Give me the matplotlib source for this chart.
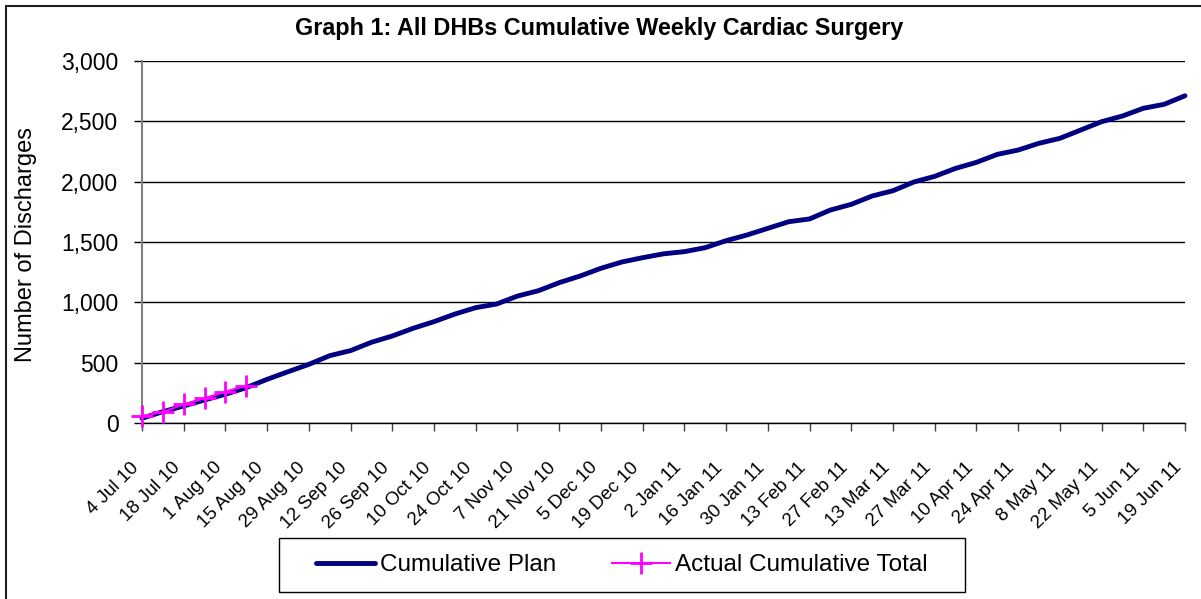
import numpy as np
import matplotlib
matplotlib.use('Agg')
import matplotlib.pyplot as plt
import matplotlib.transforms as mtransforms
from matplotlib.patches import Rectangle
from matplotlib.ticker import FuncFormatter

#---------------------------------------------------------------------#
# Weekly cumulative cardiac surgery discharges, 4 Jul 10 - 19 Jun 11  #
#---------------------------------------------------------------------#
tickLabels = ['4 Jul 10', '18 Jul 10', '1 Aug 10', '15 Aug 10', '29 Aug 10',
              '12 Sep 10', '26 Sep 10', '10 Oct 10', '24 Oct 10', '7 Nov 10',
              '21 Nov 10', '5 Dec 10', '19 Dec 10', '2 Jan 11', '16 Jan 11',
              '30 Jan 11', '13 Feb 11', '27 Feb 11', '13 Mar 11', '27 Mar 11',
              '10 Apr 11', '24 Apr 11', '8 May 11', '22 May 11', '5 Jun 11',
              '19 Jun 11']

cumulativePlan = [39, 94, 141, 191, 238, 293, 362, 425, 486, 558,
                  600, 669, 721, 785, 840, 903, 956, 986, 1052, 1096,
                  1163, 1218, 1282, 1334, 1370, 1402, 1420, 1453, 1511, 1558,
                  1613, 1668, 1691, 1765, 1812, 1881, 1925, 1997, 2044, 2110,
                  2160, 2226, 2262, 2318, 2359, 2428, 2497, 2544, 2608, 2641,
                  2712]

actualTotal = [58, 91, 155, 204, 260, 310]

weeks = np.arange(len(cumulativePlan))
actualWeeks = np.arange(len(actualTotal))

plt.rcParams['font.family'] = ['Liberation Sans', 'DejaVu Sans']

W, H = 1201, 599
fig = plt.figure(figsize=(W/100, H/100), dpi=100)
ax = fig.add_axes([142/W, 1 - 423/H, (1185 - 142)/W, (423 - 61)/H])

ax.plot(weeks, cumulativePlan, color='#000080', linewidth=3.5,
        label='Cumulative Plan', solid_capstyle='round', zorder=3, clip_on=False)
ax.plot(actualWeeks, actualTotal, color='#FF00FF', linewidth=1.5, marker='+',
        markersize=16, markeredgewidth=2, label='Actual Cumulative Total',
        zorder=4, clip_on=False)

ax.set_xlim(0, len(cumulativePlan) - 1)
ax.set_ylim(0, 3000)
ax.set_yticks(np.arange(0, 3001, 500))
ax.yaxis.set_major_formatter(FuncFormatter(lambda v, p: '{:,.0f}'.format(v)))
ax.set_xticks(np.arange(0, len(cumulativePlan), 2))
ax.set_xticklabels(tickLabels, rotation=45, ha='right', va='top', fontsize=13.5)

offset = mtransforms.ScaledTranslation(-6/100, 0, fig.dpi_scale_trans)
for lab in ax.get_xticklabels():
  lab.set_transform(lab.get_transform() + offset)

ax.tick_params(axis='y', length=6, width=1, colors='black', labelsize=16.5, pad=11)
ax.tick_params(axis='x', length=6, width=1, colors='#404040', labelcolor='black', pad=20)

ax.grid(axis='y', color='black', linewidth=1)
ax.set_axisbelow(True)
for side in ['top', 'right']:
  ax.spines[side].set_visible(False)
ax.spines['left'].set_color('#808080')
ax.spines['left'].set_linewidth(1.5)
ax.spines['bottom'].set_color('black')
ax.spines['bottom'].set_linewidth(1)

fig.text(599/W, 1 - 28/H, 'Graph 1: All DHBs Cumulative Weekly Cardiac Surgery',
         ha='center', va='center', fontsize=16.8, fontweight='bold')
fig.text(26/W, 1 - 245/H, 'Number of Discharges', rotation=90,
         ha='center', va='center', fontsize=17)

# legend content, box drawn separately to match the original padding
leg = fig.legend(loc='center', bbox_to_anchor=(622/W, 1 - 565/H), ncol=2,
                 fontsize=17.5, frameon=False,
                 handlelength=2.4, handletextpad=0.2, columnspacing=2.3,
                 numpoints=1, borderpad=0.3)
fig.patches.append(Rectangle((279/W, 1 - 592/H), (965 - 279)/W, (592 - 538)/H,
                             transform=fig.transFigure, fill=False,
                             edgecolor='black', linewidth=1))

# outer chart border
fig.patches.append(Rectangle((6/W, -0.05), 1.2, 1 - 6/H + 0.05,
                             transform=fig.transFigure, fill=False,
                             edgecolor='#202020', linewidth=1.5, clip_on=False))

plt.savefig('out.png', dpi=100)
